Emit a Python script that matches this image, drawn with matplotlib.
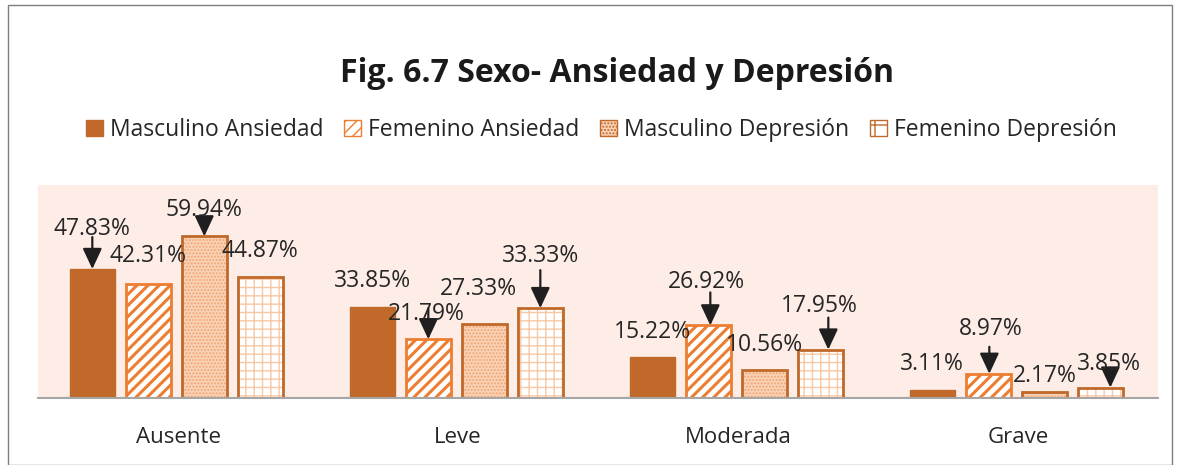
import matplotlib
matplotlib.use("Agg")
import matplotlib.pyplot as plt
from matplotlib.patches import Patch, Rectangle
from matplotlib.transforms import offset_copy
import numpy as np

plt.rcParams['font.family'] = ['Open Sans', 'DejaVu Sans']

categories = ["Ausente", "Leve", "Moderada", "Grave"]
series_names = ["Masculino Ansiedad", "Femenino Ansiedad", "Masculino Depresión", "Femenino Depresión"]
masc_ans = [47.83, 33.85, 15.22, 3.11]
fem_ans = [42.31, 21.79, 26.92, 8.97]
masc_dep = [59.94, 27.33, 10.56, 2.17]
fem_dep = [44.87, 33.33, 17.95, 3.85]
title = "Fig. 6.7 Sexo- Ansiedad y Depresión"

values = [masc_ans, fem_ans, masc_dep, fem_dep]

W, H = 1184, 465
fig = plt.figure(figsize=(W/100, H/100), dpi=100)
fig.patch.set_facecolor('white')
fig.add_artist(Rectangle((8/W, 0), (1172-8)/W, 1-5/H, transform=fig.transFigure,
                         fill=False, edgecolor='#7f7f7f', linewidth=1))

ax = fig.add_axes([38/W, 1-398/H, (1158-38)/W, (398-185)/H])
ax.set_facecolor('#FDEDE6')
ax.set_ylim(0, 79)
ax.set_xlim(-0.5, 3.5)

x = np.arange(len(categories))
bw = 0.16
offsets = np.array([-1.5, -0.5, 0.5, 1.5]) * 0.2 - 0.006

dark = '#C0692A'
orange = '#ED7D31'

# Masculino Ansiedad
ax.bar(x + offsets[0], masc_ans, bw, color=dark, edgecolor=dark, linewidth=1, zorder=3)
# Femenino Ansiedad
plt.rcParams['hatch.linewidth'] = 2.2
ax.bar(x + offsets[1], fem_ans, bw, color='white', edgecolor=orange, hatch='///', linewidth=0, zorder=3)
ax.bar(x + offsets[1], fem_ans, bw, fill=False, edgecolor=orange, linewidth=2, zorder=4)
# Masculino Depresion
plt.rcParams['hatch.linewidth'] = 1.0
ax.bar(x + offsets[2], masc_dep, bw, color='#F9D3B8', edgecolor='#F2A46E', hatch='.....', linewidth=0, zorder=3)
ax.bar(x + offsets[2], masc_dep, bw, fill=False, edgecolor=dark, linewidth=2, zorder=4)
# Femenino Depresion
plt.rcParams['hatch.linewidth'] = 1.0
ax.bar(x + offsets[3], fem_dep, bw, color='white', edgecolor='#F8C8A4', hatch='++', linewidth=0, zorder=3)
ax.bar(x + offsets[3], fem_dep, bw, fill=False, edgecolor=dark, linewidth=2, zorder=4)

for s in ['top', 'right', 'left']:
    ax.spines[s].set_visible(False)
ax.spines['bottom'].set_color('#a6a6a6')
ax.spines['bottom'].set_linewidth(1.5)
ax.spines['bottom'].set_zorder(5)
ax.set_yticks([])
ax.set_xticks(x)
ax.set_xticklabels(categories, fontsize=16, color='#262626')
ax.tick_params(axis='x', length=0, pad=21)

# label layout in pixels relative to bar top: (text dx, text dy, arrow dx, arrow start dy or None)
layout = {
    (0, 0): (0, 40, 0, 32), (0, 1): (0, 28, None, None), (0, 2): (0, 26, 0, 17), (0, 3): (0, 26, None, None),
    (1, 0): (0, 26, None, None), (1, 1): (-2, 25, 0, 31), (1, 2): (-6, 35, None, None), (1, 3): (0, 52, 0, 38),
    (2, 0): (0, 25, None, None), (2, 1): (-2, 43, 2, 33), (2, 2): (0, 25, None, None), (2, 3): (-1, 44, 8, 32),
    (3, 0): (0, 26, None, None), (3, 1): (2, 45, 1, 27), (3, 2): (0, 16, None, None), (3, 3): (9, 24, 10, 20),
}
for si, vals in enumerate(values):
    for ci, v in enumerate(vals):
        tdx, tdy, adx, ady = layout[(ci, si)]
        xp = x[ci] + offsets[si]
        if adx is not None:
            tip_tr = offset_copy(ax.transData, fig=fig, x=adx, y=0, units='dots')
            start_tr = offset_copy(ax.transData, fig=fig, x=adx, y=ady, units='dots')
            ax.annotate("", xy=(xp, v), xycoords=tip_tr, xytext=(xp, v), textcoords=start_tr,
                        arrowprops=dict(arrowstyle='-|>,head_length=0.9,head_width=0.42', color='#1f1f1f',
                                        lw=1.6, mutation_scale=14, shrinkA=0, shrinkB=0),
                        zorder=6, annotation_clip=False)
        ax.annotate(f"{v:.2f}%", xy=(xp, v), xytext=(tdx, tdy), textcoords='offset pixels',
                    ha='center', va='center', fontsize=16.5, color='#262626', zorder=7,
                    annotation_clip=False)

fig.text(617/W, 1-73/H, title, ha='center', va='center', fontsize=23, fontweight='bold', color='#1a1a1a')

plt.rcParams['hatch.linewidth'] = 1.0
handles = [
    Patch(facecolor=dark, edgecolor=dark),
    Patch(facecolor='white', edgecolor=orange, hatch='///'),
    Patch(facecolor='#F9D3B8', edgecolor=dark, hatch='.....'),
    Patch(facecolor='white', edgecolor=dark, hatch='+'),
]
fig.legend(handles, series_names, loc='center', bbox_to_anchor=(601/W, 1-130/H), ncol=4,
           frameon=False, fontsize=16.5, handlelength=0.75, handleheight=0.75, handletextpad=0.3,
           columnspacing=0.9, labelcolor='#262626', borderpad=0)

fig.savefig("out.png", dpi=100, facecolor='white')
